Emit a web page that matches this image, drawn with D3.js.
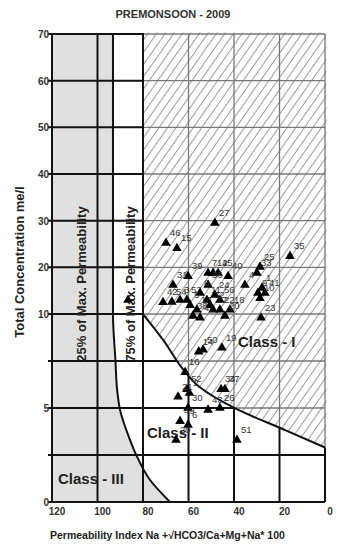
<!DOCTYPE html>
<html>
<head>
<meta charset="utf-8">
<script src="https://cdn.jsdelivr.net/npm/d3@7"></script>
<style>
  html, body { margin: 0; padding: 0; background: #fff; }
  svg { display: block; font-family: "Liberation Sans", Arial, sans-serif; }
</style>
</head>
<body>
<div id="chart"></div>
<script>
// Doneen permeability diagram, premonsoon 2009 samples
const sampleIds = ['27','46','15','35','25','33','7','12','45','40','39','31','36','4','1','41','9','10','23',
  '54','42','3','53','8','11','56','13','48','17','22','18','20','50','19','14','16','52','2','21','34','37',
  '30','49','6','43','26','29','51','','24','5','32','38'];
const permIndex = [48.4,69.9,65.1,15.4,28.6,29.9,51.4,49.2,47.0,42.6,60.2,66.8,51.4,35.2,27.7,26.4,29.5,28.6,28.1,
  67.3,71.2,63.7,60.7,54.9,51.9,46.2,56.3,54.9,49.2,46.2,41.8,44.0,53.6,45.3,55.5,61.5,60.7,59.6,64.6,45.7,44.0,
  60.2,63.7,60.2,51.4,46.2,65.5,38.7,86.6,48.4,59.3,50.5,58.0];
const totalConc = [29.5,25.2,24.1,22.4,20.1,18.8,18.8,18.8,18.8,18.1,18.1,16.2,16.2,16.2,15.6,14.5,14.5,13.4,9.8,
  12.6,12.5,13.0,13.0,14.5,13.0,13.0,10.9,9.8,10.9,10.9,10.9,9.9,8.1,8.2,8.0,6.9,6.0,5.8,5.6,6.0,6.0,
  5.0,4.3,4.1,4.9,5.0,3.3,3.3,13.0,14.1,11.9,11.9,9.9];

const xTicks = [120, 100, 80, 60, 40, 20, 0];
const yTicks = [0, 5, 10, 20, 30, 40, 50, 60, 70];
const yGrid = [0, 2.5, 5, 7.5, 10, 20, 30, 40, 50, 60, 70];

// class boundaries
const class1PI = [80, 71, 62, 55, 39, 17, 0];
const class1TC = [10, 8.6, 7, 6.1, 4.95, 3.8, 2.9];
const class3PI = [93.2, 93.2, 92.1, 91.4, 90.1, 85.7, 82.6, 76.9, 68.1];
const class3TC = [70, 10, 7.5, 6, 4.9, 3.3, 2.4, 1.17, 0];

const W = 337, H = 548;
const svg = d3.select('#chart').append('svg')
  .attr('width', W).attr('height', H);

const x = d3.scaleLinear().domain([120, 0]).range([52, 325]);
// lower part (0-10) is stretched
const y = d3.scaleLinear().domain([0, 10, 70]).range([502, 314, 34]);

const defs = svg.append('defs');
defs.append('pattern')
  .attr('id', 'hatch')
  .attr('patternUnits', 'userSpaceOnUse')
  .attr('width', 7).attr('height', 7)
  .attr('patternTransform', 'rotate(35)')
  .append('line')
  .attr('x1', 0).attr('y1', 0).attr('x2', 0).attr('y2', 7)
  .attr('stroke', '#3a3a3a').attr('stroke-width', 1);

const c1 = class1PI.map((v, i) => [x(v), y(class1TC[i])]);
const c3 = class3PI.map((v, i) => [x(v), y(class3TC[i])]);
const line1 = d3.line().curve(d3.curveMonotoneY)(c1);
const line3 = d3.line().curve(d3.curveMonotoneY)(c3);

const hatchPath = line1 + `L${x(0) + 1.5},${c1[c1.length - 1][1]}` +
  `L${x(0) + 1.5},${y(70) - 1.5}L${x(80)},${y(70) - 1.5}Z`;
defs.append('clipPath').attr('id', 'hclip').append('path').attr('d', hatchPath);

// grey class III zone
svg.append('path')
  .attr('d', line3 + `L${x(120)},${y(0)}L${x(120)},${y(70)}Z`)
  .attr('fill', '#e0e0e0');

// black grid
const grid = svg.append('g').attr('stroke', '#111').attr('stroke-width', 2);
yGrid.forEach(v => {
  grid.append('line')
    .attr('x1', x(120) - 4).attr('x2', x(0))
    .attr('y1', y(v)).attr('y2', y(v));
});
xTicks.forEach(v => {
  grid.append('line')
    .attr('x1', x(v)).attr('x2', x(v))
    .attr('y1', y(70)).attr('y2', y(0));
});

// class I zone, hatched
svg.append('path').attr('d', hatchPath).attr('fill', '#fff');
svg.append('path').attr('d', hatchPath).attr('fill', 'url(#hatch)');

const lightGrid = svg.append('g')
  .attr('clip-path', 'url(#hclip)')
  .attr('stroke', '#777').attr('stroke-width', 1.3);
yGrid.forEach(v => {
  lightGrid.append('line')
    .attr('x1', x(120)).attr('x2', x(0))
    .attr('y1', y(v)).attr('y2', y(v));
});
xTicks.forEach(v => {
  lightGrid.append('line')
    .attr('x1', x(v)).attr('x2', x(v))
    .attr('y1', y(70)).attr('y2', y(0));
});

// black edge of the 75% column
svg.append('line')
  .attr('x1', x(80)).attr('x2', x(80))
  .attr('y1', y(70) - 1).attr('y2', y(0))
  .attr('stroke', '#111').attr('stroke-width', 2);

// boundaries
svg.append('path').attr('d', line1)
  .attr('fill', 'none').attr('stroke', '#111').attr('stroke-width', 2);
svg.append('path').attr('d', line3)
  .attr('fill', 'none').attr('stroke', '#111').attr('stroke-width', 2);

// tick labels
svg.append('g').selectAll('text')
  .data(yTicks).join('text')
  .attr('x', 49).attr('y', d => y(d) + 4)
  .attr('text-anchor', 'end')
  .attr('font-size', 10).attr('font-weight', 'bold').attr('fill', '#333')
  .text(d => d);

svg.append('g').selectAll('text')
  .data(xTicks).join('text')
  .attr('x', d => x(d) + 5).attr('y', 515)
  .attr('text-anchor', 'middle')
  .attr('font-size', 10).attr('font-weight', 'bold').attr('fill', '#333')
  .text(d => d);

// titles
svg.append('text')
  .attr('x', 173).attr('y', 18)
  .attr('text-anchor', 'middle')
  .attr('font-size', 11).attr('font-weight', 'bold').attr('fill', '#333')
  .text('PREMONSOON - 2009');

svg.append('text')
  .attr('transform', 'translate(24,262) rotate(-90)')
  .attr('text-anchor', 'middle')
  .attr('font-size', 13).attr('font-weight', 'bold').attr('fill', '#222')
  .text('Total Concentration me/l');

svg.append('text')
  .attr('x', 50).attr('y', 539)
  .attr('font-size', 10.5).attr('font-weight', 'bold').attr('fill', '#222')
  .text('Permeability Index Na +\u221AHCO3/Ca+Mg+Na* 100');

svg.append('text')
  .attr('transform', 'translate(86,284) rotate(-90)')
  .attr('text-anchor', 'middle')
  .attr('font-size', 13).attr('font-weight', 'bold').attr('fill', '#222')
  .text('25% of Max. Permeability');

svg.append('text')
  .attr('transform', 'translate(135,284) rotate(-90)')
  .attr('text-anchor', 'middle')
  .attr('font-size', 13).attr('font-weight', 'bold').attr('fill', '#222')
  .text('75% of Max. Permeability');

const classLabel = (tx, ty, s) => svg.append('text')
  .attr('x', tx).attr('y', ty)
  .attr('font-size', 15).attr('font-weight', 'bold').attr('fill', '#222')
  .text(s);
classLabel(238, 347, 'Class - I');
classLabel(147, 438, 'Class - II');
classLabel(58, 484, 'Class - III');

// samples
const tri = d3.symbol().type(d3.symbolTriangle).size(40);
const pts = svg.append('g');
sampleIds.forEach((id, i) => {
  const px = x(permIndex[i]), py = y(totalConc[i]);
  pts.append('path')
    .attr('d', tri)
    .attr('transform', `translate(${px},${py})`)
    .attr('fill', '#000');
  pts.append('text')
    .attr('x', px + 4).attr('y', py - 7)
    .attr('font-size', 9.5).attr('fill', '#333')
    .text(id);
});
</script>
</body>
</html>
